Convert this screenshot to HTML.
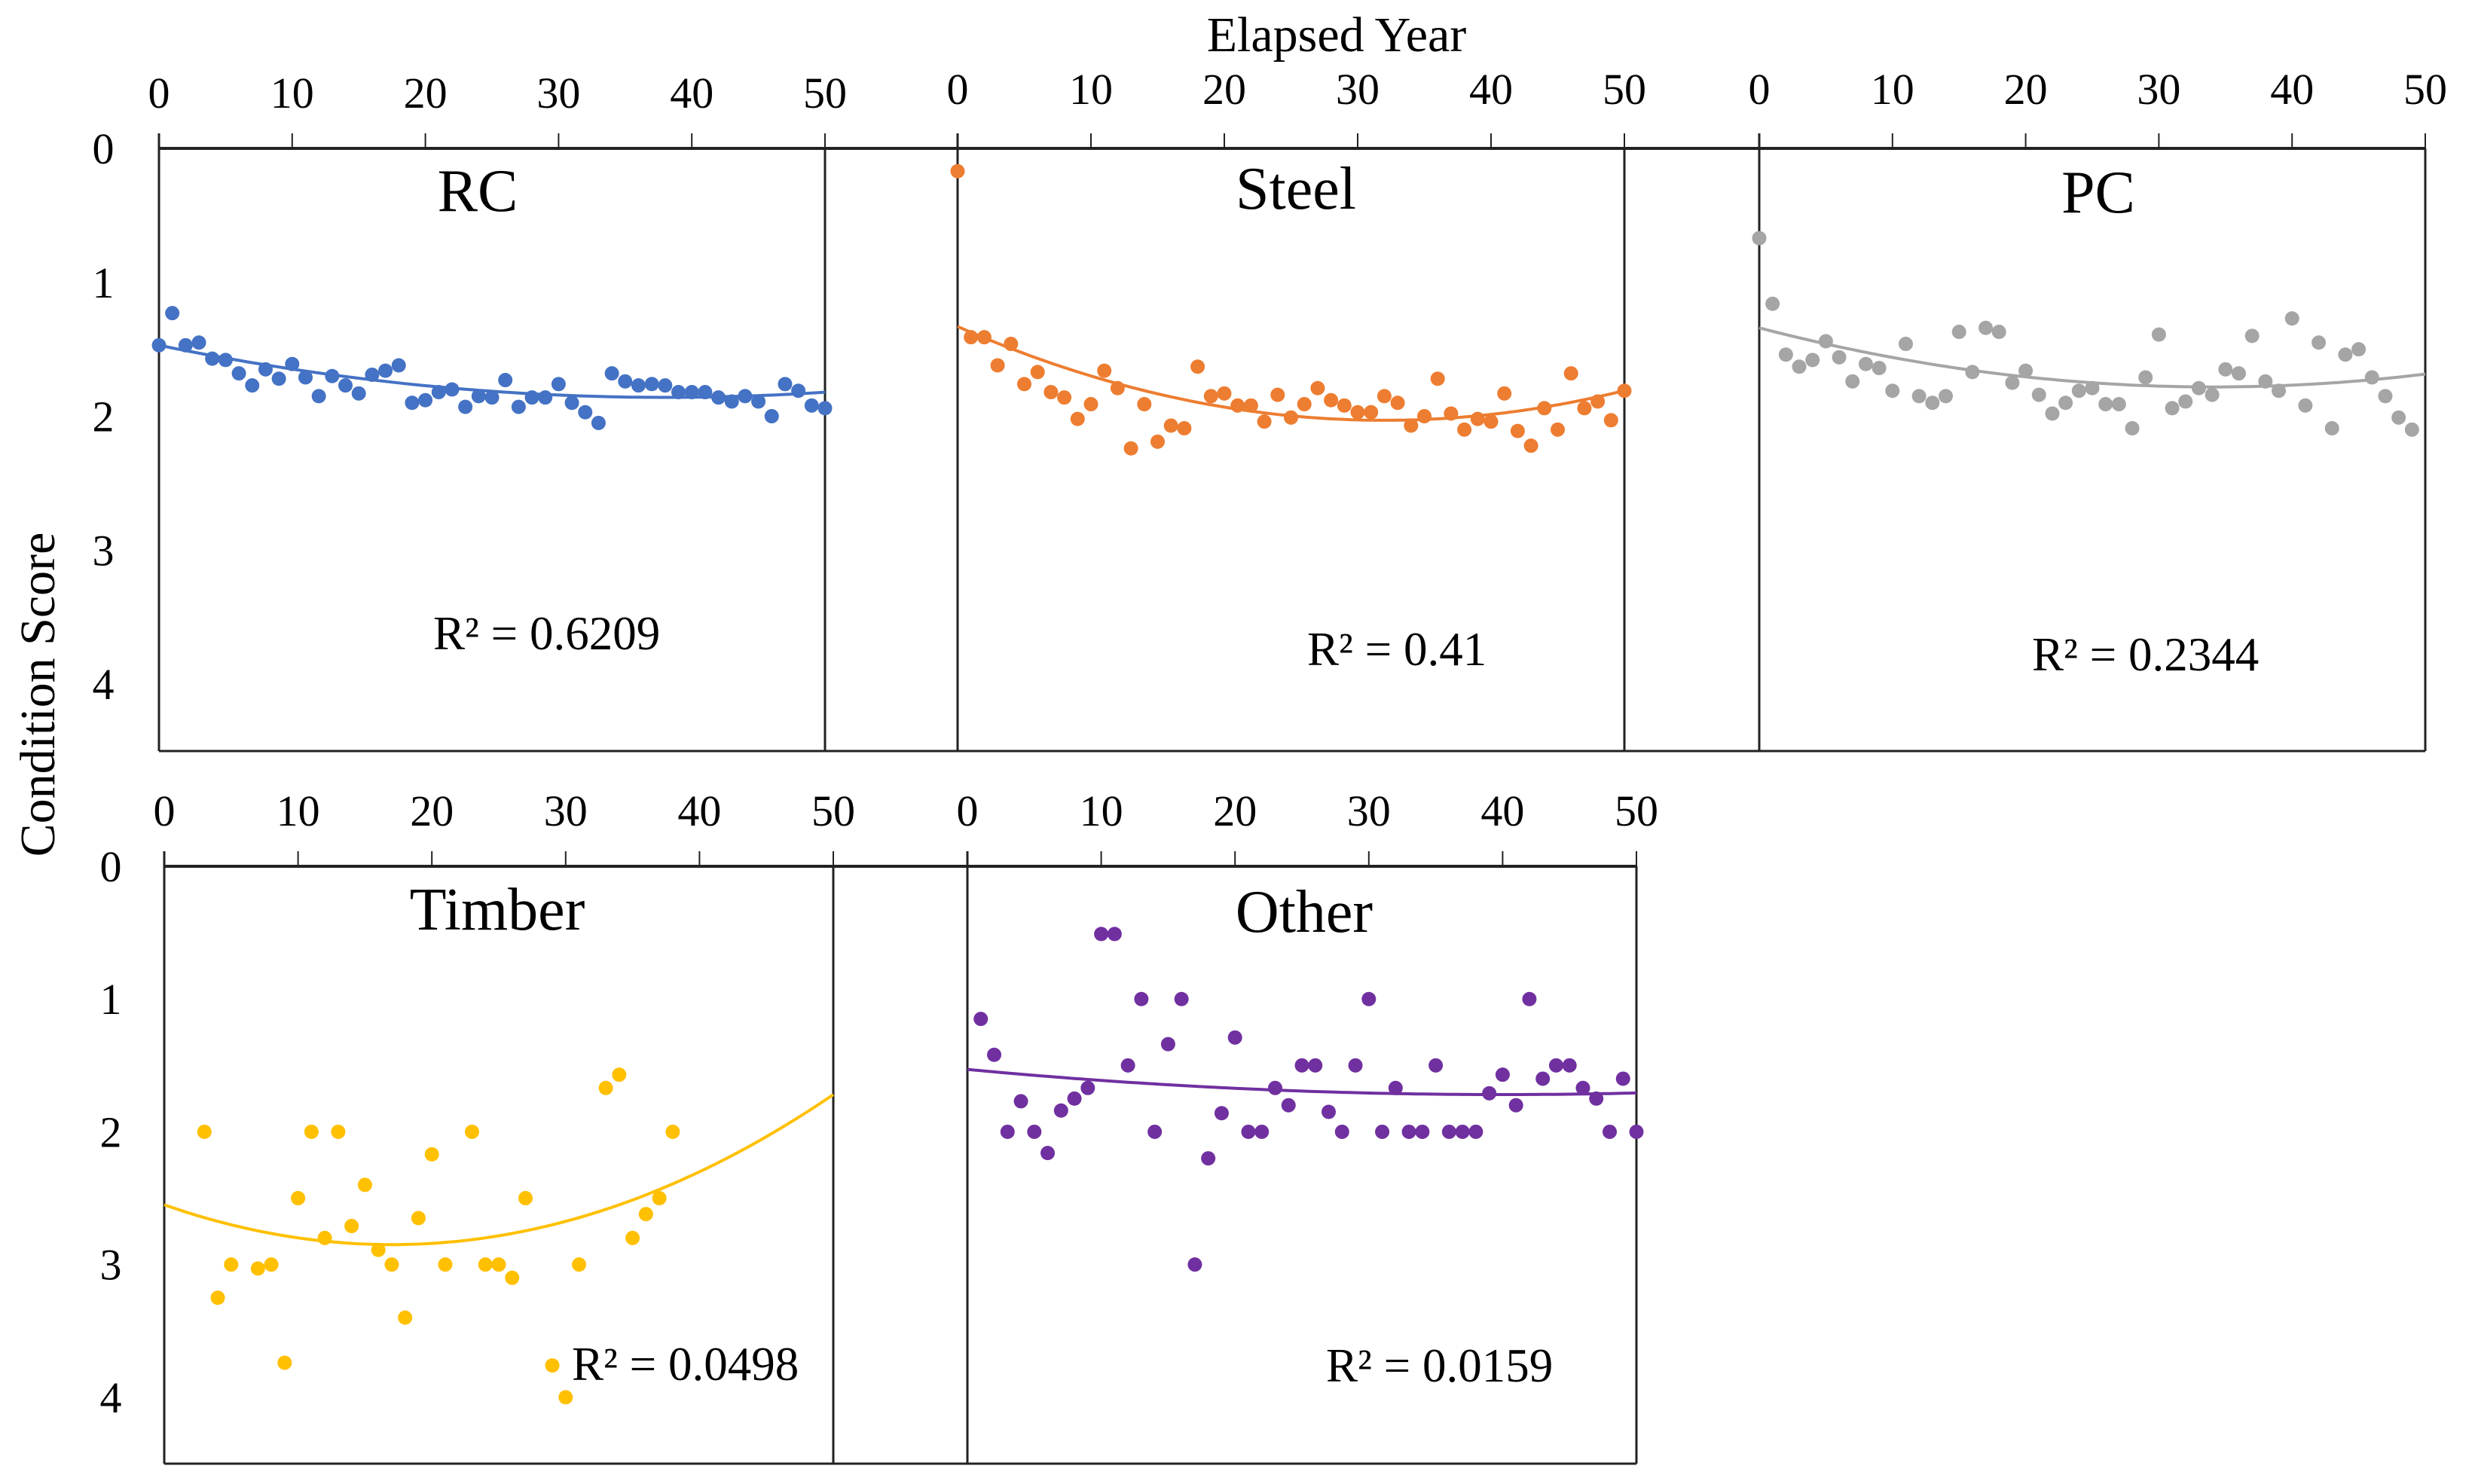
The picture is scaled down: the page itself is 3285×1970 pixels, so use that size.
<!DOCTYPE html>
<html>
<head>
<meta charset="utf-8">
<style>
  html,body{margin:0;padding:0;background:#fff;}
  svg{display:block;}
  svg text{font-family:"Liberation Serif","DejaVu Serif",serif;fill:#000;}
</style>
</head>
<body>
<svg id="chart" width="3285" height="1970" viewBox="0 0 3285 1970" xmlns="http://www.w3.org/2000/svg" font-family="Liberation Serif, serif">
  <rect x="0" y="0" width="3285" height="1970" fill="#fff"/>
  <text x="1774" y="68" font-size="66" text-anchor="middle" font-family="Liberation Serif, serif">Elapsed Year</text>
  <text x="0" y="0" font-size="66" text-anchor="middle" font-family="Liberation Serif, serif" transform="translate(72,922) rotate(-90)">Condition Score</text>
  <g id="panels"></g>
</svg>
<script>
// ---- data ----
const years = Array.from({length: 51}, (_, i) => i);
const rcValues = [1.47,1.23,1.47,1.45,1.57,1.58,1.68,1.77,1.65,1.72,1.61,1.71,1.85,1.70,1.77,1.83,1.69,1.66,1.62,1.90,1.88,1.82,1.80,1.93,1.85,1.86,1.73,1.93,1.86,1.86,1.76,1.90,1.97,2.05,1.68,1.74,1.77,1.76,1.77,1.82,1.82,1.82,1.86,1.89,1.85,1.89,2.00,1.76,1.81,1.92,1.94];
const steelValues = [0.17,1.41,1.41,1.62,1.46,1.76,1.67,1.82,1.86,2.02,1.91,1.66,1.79,2.24,1.91,2.19,2.07,2.09,1.63,1.85,1.83,1.92,1.92,2.04,1.84,2.01,1.91,1.79,1.88,1.92,1.97,1.97,1.85,1.90,2.07,2.00,1.72,1.98,2.10,2.02,2.04,1.83,2.11,2.22,1.94,2.10,1.68,1.94,1.89,2.03,1.81];
const pcValues = [0.67,1.16,1.54,1.63,1.58,1.44,1.56,1.74,1.61,1.64,1.81,1.46,1.85,1.90,1.85,1.37,1.67,1.34,1.37,1.75,1.66,1.84,1.98,1.90,1.81,1.79,1.91,1.91,2.09,1.71,1.39,1.94,1.89,1.79,1.84,1.65,1.68,1.40,1.74,1.81,1.27,1.92,1.45,2.09,1.54,1.50,1.71,1.85,2.01,2.10];
const timberYears = [3,4,5,7,8,9,10,11,12,13,14,15,16,17,18,19,20,21,23,24,25,26,27,29,30,31,33,34,35,36,37,38];
const timberValues = [2.0,3.25,3.0,3.03,3.0,3.74,2.5,2.0,2.8,2.0,2.71,2.4,2.89,3.0,3.4,2.65,2.17,3.0,2.0,3.0,3.0,3.1,2.5,3.76,4.0,3.0,1.67,1.57,2.8,2.62,2.5,2.0];
const otherYears = years.slice(1);
const otherValues = [1.15,1.42,2.0,1.77,2.0,2.16,1.84,1.75,1.67,0.51,0.51,1.5,1.0,2.0,1.34,1.0,3.0,2.2,1.86,1.29,2.0,2.0,1.67,1.8,1.5,1.5,1.85,2.0,1.5,1.0,2.0,1.67,2.0,2.0,1.5,2.0,2.0,2.0,1.71,1.57,1.8,1.0,1.6,1.5,1.5,1.67,1.75,2.0,1.6,2.0];
// trend coefficients [c, b, a] for y = c + b x + a x^2
const rcTrend = [1.47, 0.02046, -0.000269];
const steelTrend = [1.33, 0.04377, -0.000684];
const pcTrend = [1.34, 0.0259, -0.00038];
const timberTrend = [2.55, 0.03528, -0.0010375];
const otherTrend = [1.53, 0.0095, -0.000119];
const xTicks = [0,10,20,30,40,50];
const yTicks = [0,1,2,3,4];
const panelNames = ["RC","Steel","PC","Timber","Other"];
const r2Labels = ["R² = 0.6209","R² = 0.41","R² = 0.2344","R² = 0.0498","R² = 0.0159"];

// ---- layout ----
const NS = "http://www.w3.org/2000/svg";
const FONT = "Liberation Serif, serif";
const root = document.getElementById('panels');
const panels = [
  {name:"rc", x0:211, x1:1095, y0:197, y1:997, xs:years, ys:rcValues, trend:rcTrend, color:"#4472C4", tx:634, ty:280, rx:575, ry:862, lblY:143, yLbl:true, yLblX:137},
  {name:"steel", x0:1271, x1:2156, y0:197, y1:997, xs:years, ys:steelValues, trend:steelTrend, color:"#ED7D31", tx:1720, ty:277, rx:1735, ry:883, lblY:138, yLbl:false},
  {name:"pc", x0:2335, x1:3219, y0:197, y1:997, xs:years.slice(0,50), ys:pcValues, trend:pcTrend, color:"#A5A5A5", tx:2785, ty:282, rx:2697, ry:890, lblY:138, yLbl:false},
  {name:"timber", x0:218, x1:1106, y0:1150, y1:1943, xs:timberYears, ys:timberValues, trend:timberTrend, color:"#FFC000", tx:660, ty:1234, rx:759, ry:1832, lblY:1096, yLbl:true, yLblX:147},
  {name:"other", x0:1284, x1:2172, y0:1150, y1:1943, xs:otherYears, ys:otherValues, trend:otherTrend, color:"#7030A0", tx:1731, ty:1237, rx:1760, ry:1834, lblY:1096, yLbl:false}
];
function mk(tag, attrs, parent){
  const e = document.createElementNS(NS, tag);
  for (const k in attrs) e.setAttribute(k, attrs[k]);
  (parent||root).appendChild(e);
  return e;
}
const rowLines = [[211,3219,197,997],[218,2172,1150,1943]];
rowLines.forEach((r,i)=>{
  const t = mk('line',{x1:r[0],x2:r[1],y1:r[2],y2:r[2],stroke:'#222','stroke-width':4});
  
  
  const b = mk('line',{x1:r[0],x2:r[1],y1:r[3],y2:r[3],stroke:'#222','stroke-width':3});
  
  
});
panels.forEach((p, pi)=>{
  const g = mk('g',{});
  
  
  const ymax = 4.5, xmax = 50;
  const sx = v => p.x0 + (p.x1 - p.x0) * v / xmax;
  const sy = v => p.y0 + (p.y1 - p.y0) * v / ymax;
  const lb = mk('line',{x1:p.x0,x2:p.x0,y1:p.y0-20,y2:p.y1,stroke:'#222','stroke-width':3},g);
  
  
  const rb = mk('line',{x1:p.x1,x2:p.x1,y1:p.y0,y2:p.y1,stroke:'#222','stroke-width':3},g);
  
  
  xTicks.forEach(t=>{
    const tk = mk('line',{x1:sx(t),x2:sx(t),y1:p.y0-20,y2:p.y0,stroke:'#222','stroke-width':2},g);
    
    
    const tl = mk('text',{x:sx(t),y:p.lblY,'font-size':58,'text-anchor':'middle','font-family':FONT},g);
    tl.textContent = t;
    
    
  });
  if (p.yLbl){
    yTicks.forEach(t=>{
      const yl = mk('text',{x:p.yLblX,y:sy(t)+20,'font-size':58,'text-anchor':'middle','font-family':FONT},g);
      yl.textContent = t;
      
      
    });
  }
  let d = '';
  for (let i=0;i<=100;i++){
    const x = xmax*i/100;
    const y = p.trend[0] + p.trend[1]*x + p.trend[2]*x*x;
    d += (i?'L':'M') + sx(x).toFixed(1) + ',' + sy(y).toFixed(1);
  }
  const tr = mk('path',{d:d,fill:'none',stroke:p.color,'stroke-width':4},g);
  
  
  p.ys.forEach((v,i)=>{
    const c = mk('circle',{cx:sx(p.xs[i]),cy:sy(v),r:9.5,fill:p.color},g);
    
    
  });
  const ti = mk('text',{x:p.tx,y:p.ty,'font-size':80,'text-anchor':'middle','font-family':FONT},g);
  ti.textContent = panelNames[pi];
  
  
  const r2 = mk('text',{x:p.rx,y:p.ry,'font-size':63,'font-family':FONT},g);
  r2.textContent = r2Labels[pi];
  
  
});
</script>
</body>
</html>
